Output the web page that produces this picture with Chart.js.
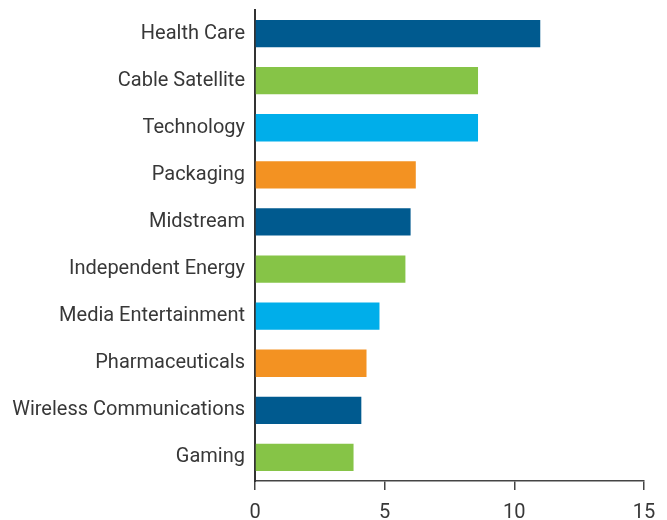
<!DOCTYPE html>
<html>
<head>
<meta charset="utf-8">
<script src="https://cdn.jsdelivr.net/npm/chart.js@4"></script>
<style>
  html, body { margin: 0; padding: 0; background: #fff; }
  #wrap { width: 667px; height: 520px; }
</style>
</head>
<body>
<div id="wrap"><canvas id="chart" width="667" height="520"></canvas></div>
<script>
// categories, top to bottom
const sectors = [
  "Health Care",
  "Cable Satellite",
  "Technology",
  "Packaging",
  "Midstream",
  "Independent Energy",
  "Media Entertainment",
  "Pharmaceuticals",
  "Wireless Communications",
  "Gaming",
];
const values = [11.0, 8.6, 8.6, 6.2, 6.0, 5.8, 4.8, 4.3, 4.1, 3.8];
const barColors = [
  "#005a8f", "#86c447", "#00aeea", "#f39222",
  "#005a8f", "#86c447", "#00aeea", "#f39222",
  "#005a8f", "#86c447",
];
const xTicks = [0, 5, 10, 15];

const textColor = "#383838";
const fontFamily = "Roboto, 'Liberation Sans', sans-serif";

new Chart(document.getElementById("chart").getContext("2d"), {
  type: "bar",
  data: {
    labels: sectors,
    datasets: [
      {
        data: values,
        backgroundColor: barColors,
        borderWidth: 0,
        barPercentage: 0.58,
        categoryPercentage: 1.0,
      },
    ],
  },
  options: {
    indexAxis: "y",
    responsive: false,
    animation: false,
    layout: {
      padding: { top: 10, right: 23, bottom: 0, left: 0 },
    },
    plugins: {
      legend: { display: false },
      tooltip: { enabled: false },
    },
    scales: {
      x: {
        min: 0,
        max: 15,
        afterBuildTicks: (axis) => {
          axis.ticks = xTicks.map((v) => ({ value: v }));
        },
        afterFit: (axis) => {
          axis.height = 39;
          axis.paddingLeft = 0;
          axis.paddingRight = 0;
        },
        grid: {
          drawOnChartArea: false,
          drawTicks: true,
          tickLength: 9,
          color: "#444",
          lineWidth: 1.5,
        },
        border: { display: true, color: "#444", width: 1.5 },
        ticks: {
          color: textColor,
          padding: 11,
          font: { family: fontFamily, size: 20 },
        },
      },
      y: {
        afterFit: (axis) => {
          axis.width = 255;
          axis.paddingTop = 0;
          axis.paddingBottom = 0;
        },
        grid: { display: false, drawTicks: false },
        border: { display: true, color: "#333", width: 2 },
        ticks: {
          color: textColor,
          padding: 10,
          font: { family: fontFamily, size: 20 },
        },
      },
    },
  },
});
</script>
</body>
</html>
